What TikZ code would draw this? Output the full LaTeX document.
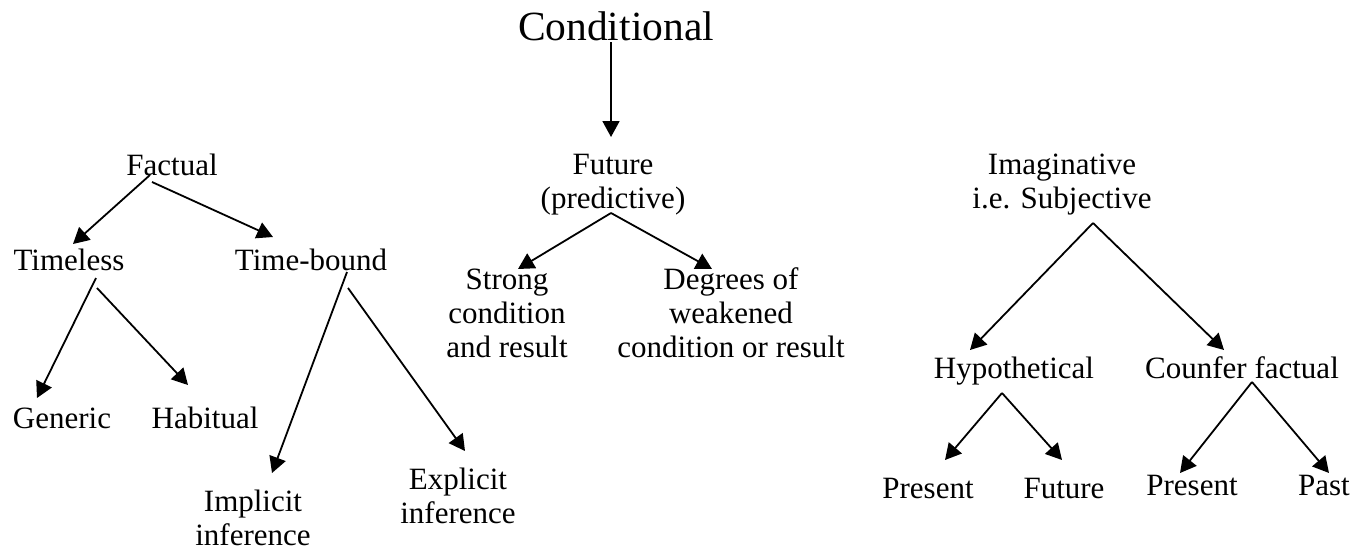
\documentclass[tikz,border=0pt]{standalone}
\usepackage{fontspec}
\setmainfont{Liberation Serif}
\usetikzlibrary{arrows.meta}
\begin{document}
\begin{tikzpicture}[x=1pt,y=-1pt,
  lbl/.style={anchor=base,inner sep=0pt,align=center,font=\fontsize{31}{34}\selectfont},
  title/.style={anchor=base,inner sep=0pt,font=\fontsize{41.5}{46}\selectfont},
  conn/.style={line width=1.8pt,-{Triangle[length=16pt,width=17pt]}}]
\useasboundingbox[fill=white] (0,0) rectangle (1367,549);
% nodes (anchor = baseline of last line)
\node[title] (cond) at (616,40) {Conditional};
\node[lbl] (fut) at (613,208) {Future\\(predictive)};
\node[lbl] (fact) at (172,175) {Factual};
\node[lbl] (imag) at (1062,208) {Imaginative\\i.e. Subjective};
\node[lbl] (timeless) at (69,270) {Timeless};
\node[lbl] (timebound) at (311,270) {Time-bound};
\node[lbl] (generic) at (62,428) {Generic};
\node[lbl] (habitual) at (205,428) {Habitual};
\node[lbl] (implicit) at (253,545) {Implicit\\inference};
\node[lbl] (explicit) at (458,523) {Explicit\\inference};
\node[lbl] (strong) at (507,357) {Strong\\condition\\and result};
\node[lbl] (degrees) at (731,357) {Degrees of\\weakened\\condition or result};
\node[lbl] (hyp) at (1014,378) {Hypothetical};
\node[lbl] (cf) at (1242,378) {Counfer factual};
\node[lbl] (pres1) at (928,498) {Present};
\node[lbl] (fut2) at (1064,498) {Future};
\node[lbl] (pres2) at (1192,495) {Present};
\node[lbl] (past) at (1324,495) {Past};
% connector ends
\coordinate (condS) at (611,42);   \coordinate (futN) at (611,137);
\coordinate (futS) at (611,213);   \coordinate (strongN) at (518,269); \coordinate (degreesN) at (712,269);
\coordinate (factSa) at (150,175); \coordinate (timelessN) at (73,244);
\coordinate (factSb) at (152,182); \coordinate (timeboundN) at (273,237);
\coordinate (timelessSa) at (96,278); \coordinate (genericN) at (37,398);
\coordinate (timelessSb) at (97,288); \coordinate (habitualN) at (188,385);
\coordinate (timeboundSa) at (347,272); \coordinate (implicitN) at (272,473);
\coordinate (timeboundSb) at (348,288); \coordinate (explicitN) at (465,451);
\coordinate (imagS) at (1093,223); \coordinate (hypN) at (970,350); \coordinate (cfN) at (1224,350);
\coordinate (hypS) at (1002,393); \coordinate (pres1N) at (945,460); \coordinate (fut2N) at (1062,460);
\coordinate (cfS) at (1252,382); \coordinate (pres2N) at (1180,473); \coordinate (pastN) at (1329,473);
% connectors
\draw[conn] (condS) -- (futN);
\draw[conn] (futS) -- (strongN);
\draw[conn] (futS) -- (degreesN);
\draw[conn] (factSa) -- (timelessN);
\draw[conn] (factSb) -- (timeboundN);
\draw[conn] (timelessSa) -- (genericN);
\draw[conn] (timelessSb) -- (habitualN);
\draw[conn] (timeboundSa) -- (implicitN);
\draw[conn] (timeboundSb) -- (explicitN);
\draw[conn] (imagS) -- (hypN);
\draw[conn] (imagS) -- (cfN);
\draw[conn] (hypS) -- (pres1N);
\draw[conn] (hypS) -- (fut2N);
\draw[conn] (cfS) -- (pres2N);
\draw[conn] (cfS) -- (pastN);
\end{tikzpicture}
\end{document}
